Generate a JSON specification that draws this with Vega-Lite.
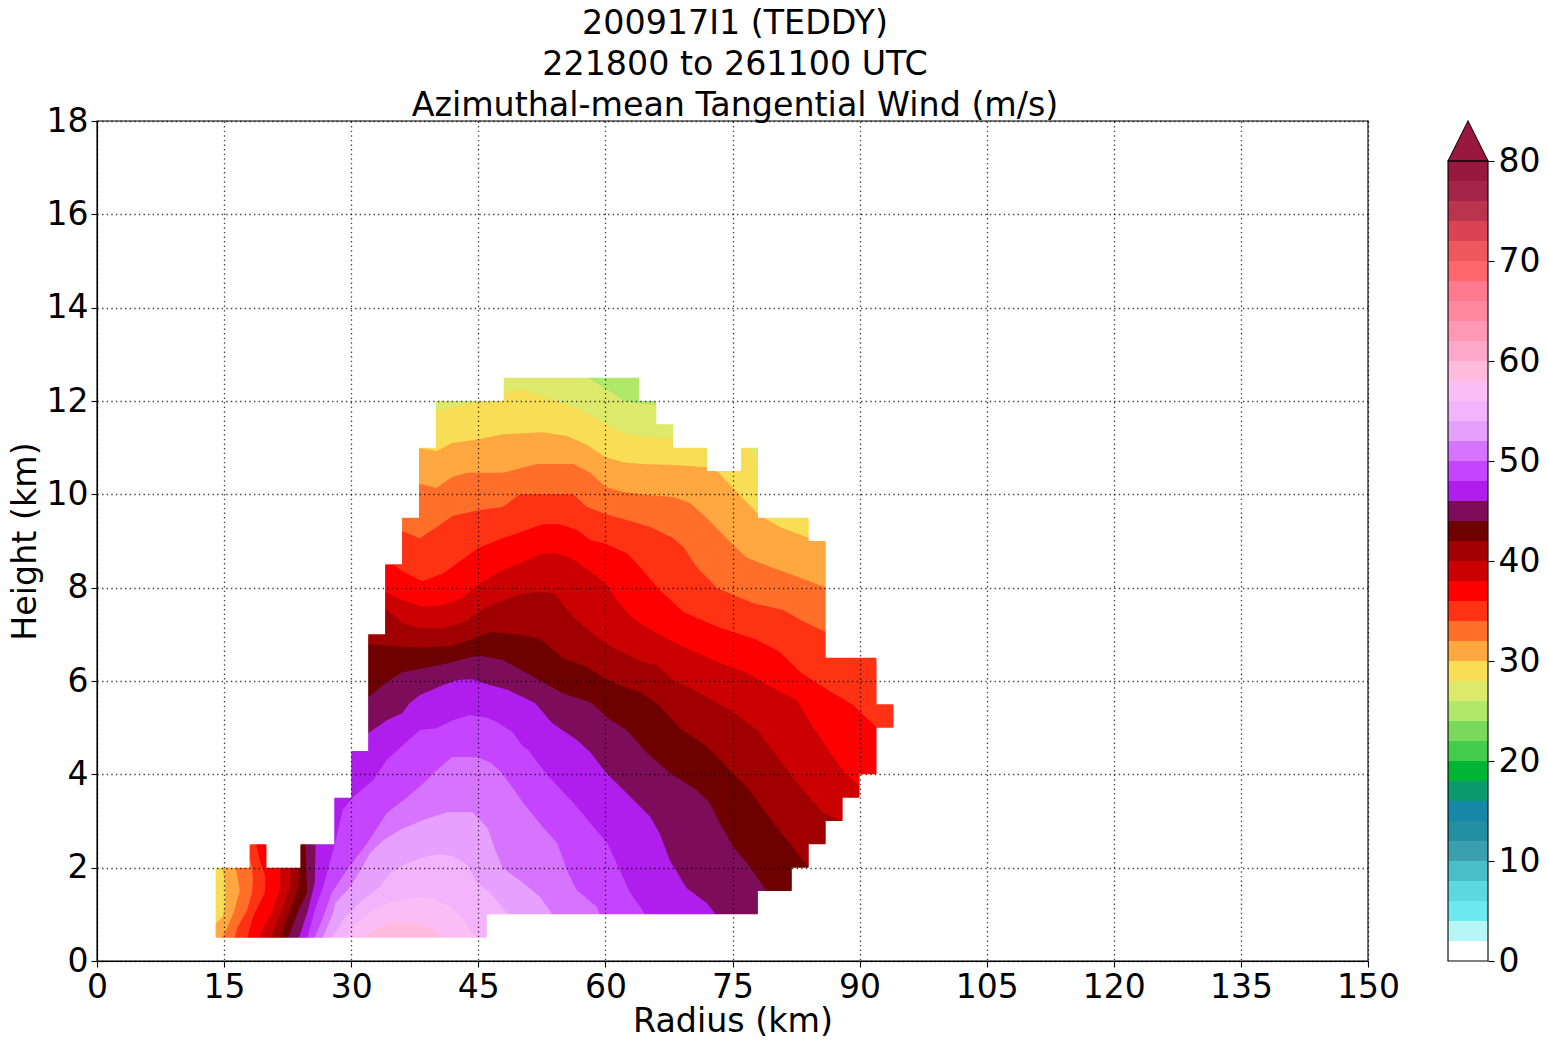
{
"$schema":"https://vega.github.io/schema/vega-lite/v6.json",
"padding":{"left":8,"top":6,"right":0,"bottom":5},
"background":"white",
"config":{"font":"DejaVu Sans","view":{"stroke":null},"concat":{"spacing":45}},
"title":{"text":["200917I1 (TEDDY)","221800 to 261100 UTC","Azimuthal-mean Tangential Wind (m/s)"],"fontSize":33.3,"fontWeight":"normal","lineHeight":41,"anchor":"middle","dx":-39,"offset":-18,"color":"black"},
"datasets":{
"frame":[{"r0":0,"r1":150,"h0":0,"h1":18}],
"mask":[
{"x0":0,"x1":150,"h0":0,"h1":0.5},{"x0":0,"x1":150,"h0":12.5,"h1":18},
{"x0":0,"x1":14,"h0":0.5,"h1":2},{"x0":46,"x1":150,"h0":0.5,"h1":1},{"x0":78,"x1":150,"h0":1,"h1":1.5},{"x0":82,"x1":150,"h0":1.5,"h1":2},
{"x0":0,"x1":18,"h0":2,"h1":2.5},{"x0":20,"x1":24,"h0":2,"h1":2.5},{"x0":84,"x1":150,"h0":2,"h1":2.5},
{"x0":0,"x1":28,"h0":2.5,"h1":3.5},{"x0":86,"x1":150,"h0":2.5,"h1":3},{"x0":88,"x1":150,"h0":3,"h1":3.5},
{"x0":0,"x1":30,"h0":3.5,"h1":4.5},{"x0":90,"x1":150,"h0":3.5,"h1":4},{"x0":92,"x1":150,"h0":4,"h1":5},
{"x0":0,"x1":32,"h0":4.5,"h1":7},{"x0":94,"x1":150,"h0":5,"h1":5.5},{"x0":92,"x1":150,"h0":5.5,"h1":6.5},{"x0":86,"x1":150,"h0":6.5,"h1":9},
{"x0":0,"x1":34,"h0":7,"h1":8.5},{"x0":0,"x1":36,"h0":8.5,"h1":9.5},{"x0":84,"x1":150,"h0":9,"h1":9.5},
{"x0":0,"x1":38,"h0":9.5,"h1":11},{"x0":78,"x1":150,"h0":9.5,"h1":11},{"x0":72,"x1":76,"h0":10.5,"h1":11},
{"x0":0,"x1":40,"h0":11,"h1":12},{"x0":68,"x1":150,"h0":11,"h1":11.5},{"x0":66,"x1":150,"h0":11.5,"h1":12},
{"x0":0,"x1":48,"h0":12,"h1":12.5},{"x0":64,"x1":150,"h0":12,"h1":12.5},
{"x0":0,"x1":14,"h0":0.47,"h1":0.53},{"x0":0,"x1":14,"h0":1.97,"h1":2.03},{"x0":0,"x1":18,"h0":2.47,"h1":2.53},{"x0":20,"x1":24,"h0":2.47,"h1":2.53},{"x0":0,"x1":28,"h0":3.47,"h1":3.53},{"x0":0,"x1":30,"h0":4.47,"h1":4.53},{"x0":0,"x1":32,"h0":6.97,"h1":7.03},{"x0":0,"x1":34,"h0":8.47,"h1":8.53},{"x0":0,"x1":36,"h0":9.47,"h1":9.53},{"x0":0,"x1":38,"h0":10.97,"h1":11.03},{"x0":0,"x1":40,"h0":11.97,"h1":12.03},{"x0":0,"x1":48,"h0":12.47,"h1":12.53},
{"x0":46,"x1":150,"h0":0.47,"h1":0.53},{"x0":78,"x1":150,"h0":0.97,"h1":1.03},{"x0":82,"x1":150,"h0":1.47,"h1":1.53},{"x0":84,"x1":150,"h0":1.97,"h1":2.03},{"x0":86,"x1":150,"h0":2.47,"h1":2.53},{"x0":88,"x1":150,"h0":2.97,"h1":3.03},{"x0":90,"x1":150,"h0":3.47,"h1":3.53},{"x0":92,"x1":150,"h0":3.97,"h1":4.03},{"x0":94,"x1":150,"h0":4.97,"h1":5.03},{"x0":94,"x1":150,"h0":5.47,"h1":5.53},{"x0":92,"x1":150,"h0":6.47,"h1":6.53},{"x0":86,"x1":150,"h0":8.97,"h1":9.03},{"x0":84,"x1":150,"h0":9.47,"h1":9.53},{"x0":78,"x1":150,"h0":10.97,"h1":11.03},{"x0":72,"x1":76,"h0":10.97,"h1":11.03},{"x0":68,"x1":150,"h0":11.47,"h1":11.53},{"x0":66,"x1":150,"h0":11.97,"h1":12.03},{"x0":64,"x1":150,"h0":12.47,"h1":12.53}
],
"contours":[
{"level":24,"i":0,"r":10,"h":0},{"level":24,"i":1,"r":10,"h":13},{"level":24,"i":2,"r":100,"h":13},{"level":24,"i":3,"r":100,"h":0},
{"level":26,"i":0,"r":10,"h":0},{"level":26,"i":1,"r":10,"h":13},{"level":26,"i":2,"r":57.5,"h":13},{"level":26,"i":3,"r":58,"h":12.49},{"level":26,"i":4,"r":62.5,"h":11.98},{"level":26,"i":5,"r":66.2,"h":11.91},{"level":26,"i":6,"r":100,"h":11.9},{"level":26,"i":7,"r":100,"h":0},
{"level":28,"i":0,"r":10,"h":0},{"level":28,"i":1,"r":10,"h":11.8},{"level":28,"i":2,"r":40,"h":11.8},{"level":28,"i":3,"r":45,"h":11.98},{"level":28,"i":4,"r":48,"h":12.17},{"level":28,"i":5,"r":50.1,"h":12.25},{"level":28,"i":6,"r":52.7,"h":12.08},{"level":28,"i":7,"r":55.8,"h":11.91},{"level":28,"i":8,"r":57.9,"h":11.74},{"level":28,"i":9,"r":60,"h":11.52},{"level":28,"i":10,"r":62.1,"h":11.31},{"level":28,"i":11,"r":64.4,"h":11.25},{"level":28,"i":12,"r":67.6,"h":11.2},{"level":28,"i":13,"r":77,"h":11},{"level":28,"i":14,"r":78.1,"h":10.7},{"level":28,"i":15,"r":100,"h":10.7},{"level":28,"i":16,"r":100,"h":0},
{"level":30,"i":0,"r":13,"h":0},{"level":30,"i":1,"r":13,"h":0.7},{"level":30,"i":2,"r":14,"h":0.81},{"level":30,"i":3,"r":14.8,"h":0.94},{"level":30,"i":4,"r":15.1,"h":1.16},{"level":30,"i":5,"r":15.1,"h":1.67},{"level":30,"i":6,"r":14.8,"h":2},{"level":30,"i":7,"r":14.8,"h":10.99},{"level":30,"i":8,"r":38.1,"h":10.99},{"level":30,"i":9,"r":40.1,"h":10.93},{"level":30,"i":10,"r":41.9,"h":11.1},{"level":30,"i":11,"r":45,"h":11.18},{"level":30,"i":12,"r":47.9,"h":11.29},{"level":30,"i":13,"r":52.6,"h":11.33},{"level":30,"i":14,"r":55.5,"h":11.25},{"level":30,"i":15,"r":57.8,"h":11.06},{"level":30,"i":16,"r":60,"h":10.8},{"level":30,"i":17,"r":62.1,"h":10.69},{"level":30,"i":18,"r":64.4,"h":10.65},{"level":30,"i":19,"r":68.2,"h":10.63},{"level":30,"i":20,"r":72,"h":10.58},{"level":30,"i":21,"r":73.3,"h":10.48},{"level":30,"i":22,"r":75.1,"h":10.13},{"level":30,"i":23,"r":78.1,"h":9.56},{"level":30,"i":24,"r":80.6,"h":9.3},{"level":30,"i":25,"r":84.1,"h":9.06},{"level":30,"i":26,"r":100,"h":8.9},{"level":30,"i":27,"r":100,"h":0},
{"level":32,"i":0,"r":14.2,"h":0},{"level":32,"i":1,"r":14.6,"h":0.47},{"level":32,"i":2,"r":15.1,"h":0.6},{"level":32,"i":3,"r":16.1,"h":1.03},{"level":32,"i":4,"r":16.8,"h":1.46},{"level":32,"i":5,"r":16.8,"h":1.56},{"level":32,"i":6,"r":16.4,"h":2},{"level":32,"i":7,"r":16.4,"h":10.22},{"level":32,"i":8,"r":38.1,"h":10.22},{"level":32,"i":9,"r":40.1,"h":10.14},{"level":32,"i":10,"r":41.9,"h":10.37},{"level":32,"i":11,"r":43.7,"h":10.46},{"level":32,"i":12,"r":47.9,"h":10.46},{"level":32,"i":13,"r":51.9,"h":10.65},{"level":32,"i":14,"r":56.2,"h":10.65},{"level":32,"i":15,"r":58.2,"h":10.46},{"level":32,"i":16,"r":60,"h":10.16},{"level":32,"i":17,"r":62.1,"h":10.05},{"level":32,"i":18,"r":64.9,"h":9.99},{"level":32,"i":19,"r":68.2,"h":9.94},{"level":32,"i":20,"r":70,"h":9.81},{"level":32,"i":21,"r":72,"h":9.49},{"level":32,"i":22,"r":75.1,"h":8.91},{"level":32,"i":23,"r":76.7,"h":8.64},{"level":32,"i":24,"r":79.8,"h":8.42},{"level":32,"i":25,"r":83,"h":8.21},{"level":32,"i":26,"r":86.2,"h":7.99},{"level":32,"i":27,"r":100,"h":7.9},{"level":32,"i":28,"r":100,"h":0},
{"level":34,"i":0,"r":15.8,"h":0},{"level":34,"i":1,"r":16.2,"h":0.47},{"level":34,"i":2,"r":16.6,"h":0.73},{"level":34,"i":3,"r":17.7,"h":1.09},{"level":34,"i":4,"r":18.3,"h":1.46},{"level":34,"i":5,"r":18.4,"h":1.74},{"level":34,"i":6,"r":18.3,"h":2},{"level":34,"i":7,"r":18,"h":2.2},{"level":34,"i":8,"r":18,"h":9.21},{"level":34,"i":9,"r":36.1,"h":9.21},{"level":34,"i":10,"r":38.1,"h":9.06},{"level":34,"i":11,"r":40.1,"h":9.3},{"level":34,"i":12,"r":42,"h":9.54},{"level":34,"i":13,"r":45,"h":9.66},{"level":34,"i":14,"r":47.9,"h":9.73},{"level":34,"i":15,"r":49.9,"h":10},{"level":34,"i":16,"r":56.2,"h":10},{"level":34,"i":17,"r":57.8,"h":9.73},{"level":34,"i":18,"r":60,"h":9.58},{"level":34,"i":19,"r":62.1,"h":9.47},{"level":34,"i":20,"r":65.3,"h":9.3},{"level":34,"i":21,"r":68,"h":9.06},{"level":34,"i":22,"r":69.2,"h":8.87},{"level":34,"i":23,"r":70.8,"h":8.44},{"level":34,"i":24,"r":73.2,"h":7.99},{"level":34,"i":25,"r":77.4,"h":7.67},{"level":34,"i":26,"r":81,"h":7.52},{"level":34,"i":27,"r":83,"h":7.31},{"level":34,"i":28,"r":86.2,"h":7.03},{"level":34,"i":29,"r":100,"h":7},{"level":34,"i":30,"r":100,"h":0},
{"level":36,"i":0,"r":17.3,"h":0},{"level":36,"i":1,"r":17.7,"h":0.47},{"level":36,"i":2,"r":18.4,"h":0.94},{"level":36,"i":3,"r":19.8,"h":1.46},{"level":36,"i":4,"r":19.9,"h":1.8},{"level":36,"i":5,"r":19.2,"h":2.16},{"level":36,"i":6,"r":18.8,"h":2.49},{"level":36,"i":7,"r":18.8,"h":8.49},{"level":36,"i":8,"r":35,"h":8.49},{"level":36,"i":9,"r":36.1,"h":8.34},{"level":36,"i":10,"r":38.4,"h":8.14},{"level":36,"i":11,"r":40.9,"h":8.31},{"level":36,"i":12,"r":43,"h":8.59},{"level":36,"i":13,"r":45,"h":8.85},{"level":36,"i":14,"r":47.9,"h":9.06},{"level":36,"i":15,"r":51.1,"h":9.26},{"level":36,"i":16,"r":52.6,"h":9.36},{"level":36,"i":17,"r":54.6,"h":9.36},{"level":36,"i":18,"r":56.6,"h":9.24},{"level":36,"i":19,"r":58.2,"h":9.02},{"level":36,"i":20,"r":60,"h":8.94},{"level":36,"i":21,"r":62.5,"h":8.74},{"level":36,"i":22,"r":64.1,"h":8.44},{"level":36,"i":23,"r":66.4,"h":7.95},{"level":36,"i":24,"r":69.2,"h":7.48},{"level":36,"i":25,"r":73.2,"h":7.16},{"level":36,"i":26,"r":77.9,"h":6.88},{"level":36,"i":27,"r":80.6,"h":6.62},{"level":36,"i":28,"r":83,"h":6.19},{"level":36,"i":29,"r":86.2,"h":5.81},{"level":36,"i":30,"r":89.2,"h":5.49},{"level":36,"i":31,"r":92.2,"h":4.97},{"level":36,"i":32,"r":100,"h":4.9},{"level":36,"i":33,"r":100,"h":0},
{"level":38,"i":0,"r":18.6,"h":0},{"level":38,"i":1,"r":19,"h":0.47},{"level":38,"i":2,"r":20.7,"h":1.09},{"level":38,"i":3,"r":21.6,"h":1.56},{"level":38,"i":4,"r":21.6,"h":7.9},{"level":38,"i":5,"r":34.1,"h":7.9},{"level":38,"i":6,"r":36.1,"h":7.73},{"level":38,"i":7,"r":38.4,"h":7.59},{"level":38,"i":8,"r":40.8,"h":7.63},{"level":38,"i":9,"r":43.1,"h":7.78},{"level":38,"i":10,"r":45,"h":8.06},{"level":38,"i":11,"r":46.4,"h":8.23},{"level":38,"i":12,"r":47.9,"h":8.38},{"level":38,"i":13,"r":50.3,"h":8.55},{"level":38,"i":14,"r":52.3,"h":8.72},{"level":38,"i":15,"r":54.1,"h":8.74},{"level":38,"i":16,"r":55.8,"h":8.64},{"level":38,"i":17,"r":58,"h":8.38},{"level":38,"i":18,"r":60,"h":8.1},{"level":38,"i":19,"r":61.4,"h":7.73},{"level":38,"i":20,"r":62.9,"h":7.41},{"level":38,"i":21,"r":64.1,"h":7.24},{"level":38,"i":22,"r":66.4,"h":6.99},{"level":38,"i":23,"r":69.2,"h":6.73},{"level":38,"i":24,"r":72.7,"h":6.45},{"level":38,"i":25,"r":76.7,"h":6.17},{"level":38,"i":26,"r":79.8,"h":5.85},{"level":38,"i":27,"r":82.6,"h":5.59},{"level":38,"i":28,"r":84.5,"h":5.01},{"level":38,"i":29,"r":86.9,"h":4.37},{"level":38,"i":30,"r":88.3,"h":4.03},{"level":38,"i":31,"r":90.2,"h":3.71},{"level":38,"i":32,"r":100,"h":3.5},{"level":38,"i":33,"r":100,"h":0},
{"level":40,"i":0,"r":20,"h":0},{"level":40,"i":1,"r":20.4,"h":0.47},{"level":40,"i":2,"r":21.8,"h":1.09},{"level":40,"i":3,"r":22.8,"h":1.59},{"level":40,"i":4,"r":22.8,"h":7.54},{"level":40,"i":5,"r":34.1,"h":7.54},{"level":40,"i":6,"r":35,"h":7.41},{"level":40,"i":7,"r":36.1,"h":7.24},{"level":40,"i":8,"r":37.9,"h":7.13},{"level":40,"i":9,"r":40.8,"h":7.13},{"level":40,"i":10,"r":43.2,"h":7.26},{"level":40,"i":11,"r":45,"h":7.46},{"level":40,"i":12,"r":46,"h":7.59},{"level":40,"i":13,"r":49.6,"h":7.84},{"level":40,"i":14,"r":51.9,"h":7.91},{"level":40,"i":15,"r":53.9,"h":7.88},{"level":40,"i":16,"r":56.2,"h":7.37},{"level":40,"i":17,"r":59,"h":6.94},{"level":40,"i":18,"r":60.9,"h":6.71},{"level":40,"i":19,"r":62.9,"h":6.54},{"level":40,"i":20,"r":64.1,"h":6.43},{"level":40,"i":21,"r":66.1,"h":6.34},{"level":40,"i":22,"r":68,"h":6.02},{"level":40,"i":23,"r":70.3,"h":5.81},{"level":40,"i":24,"r":74.7,"h":5.38},{"level":40,"i":25,"r":77.9,"h":4.95},{"level":40,"i":26,"r":80.3,"h":4.37},{"level":40,"i":27,"r":83,"h":3.73},{"level":40,"i":28,"r":85.7,"h":3.17},{"level":40,"i":29,"r":88.2,"h":2.98},{"level":40,"i":30,"r":100,"h":2.5},{"level":40,"i":31,"r":100,"h":0},
{"level":42,"i":0,"r":21.2,"h":0},{"level":42,"i":1,"r":21.5,"h":0.47},{"level":42,"i":2,"r":22.8,"h":1.09},{"level":42,"i":3,"r":23.8,"h":1.63},{"level":42,"i":4,"r":23.8,"h":6.79},{"level":42,"i":5,"r":32.1,"h":6.79},{"level":42,"i":6,"r":36.1,"h":6.73},{"level":42,"i":7,"r":38.4,"h":6.71},{"level":42,"i":8,"r":41.9,"h":6.75},{"level":42,"i":9,"r":44.8,"h":6.94},{"level":42,"i":10,"r":46.4,"h":7.05},{"level":42,"i":11,"r":49.9,"h":6.99},{"level":42,"i":12,"r":52.3,"h":6.9},{"level":42,"i":13,"r":55,"h":6.49},{"level":42,"i":14,"r":57.8,"h":6.3},{"level":42,"i":15,"r":60.2,"h":6.02},{"level":42,"i":16,"r":62.9,"h":5.83},{"level":42,"i":17,"r":64.1,"h":5.76},{"level":42,"i":18,"r":66.2,"h":5.5},{"level":42,"i":19,"r":68.8,"h":4.99},{"level":42,"i":20,"r":72,"h":4.59},{"level":42,"i":21,"r":74.7,"h":4.09},{"level":42,"i":22,"r":76.7,"h":3.73},{"level":42,"i":23,"r":79.8,"h":2.96},{"level":42,"i":24,"r":82.1,"h":2.44},{"level":42,"i":25,"r":84.1,"h":1.97},{"level":42,"i":26,"r":100,"h":1},{"level":42,"i":27,"r":100,"h":0},
{"level":44,"i":0,"r":22.2,"h":0},{"level":44,"i":1,"r":22.5,"h":0.47},{"level":44,"i":2,"r":23.8,"h":1.09},{"level":44,"i":3,"r":24.8,"h":1.46},{"level":44,"i":4,"r":24.6,"h":2.5},{"level":44,"i":5,"r":24.6,"h":5.66},{"level":44,"i":6,"r":32.1,"h":5.66},{"level":44,"i":7,"r":34.2,"h":5.98},{"level":44,"i":8,"r":36,"h":6.19},{"level":44,"i":9,"r":39.3,"h":6.3},{"level":44,"i":10,"r":41.7,"h":6.39},{"level":44,"i":11,"r":44,"h":6.51},{"level":44,"i":12,"r":45.2,"h":6.54},{"level":44,"i":13,"r":47.9,"h":6.45},{"level":44,"i":14,"r":51.1,"h":6.13},{"level":44,"i":15,"r":55,"h":5.74},{"level":44,"i":16,"r":58.4,"h":5.53},{"level":44,"i":17,"r":60.2,"h":5.21},{"level":44,"i":18,"r":62.5,"h":4.95},{"level":44,"i":19,"r":64.9,"h":4.46},{"level":44,"i":20,"r":67.6,"h":4.03},{"level":44,"i":21,"r":70.8,"h":3.66},{"level":44,"i":22,"r":72.3,"h":3.39},{"level":44,"i":23,"r":73.5,"h":2.96},{"level":44,"i":24,"r":75.1,"h":2.44},{"level":44,"i":25,"r":76.7,"h":2.1},{"level":44,"i":26,"r":79.1,"h":1.48},{"level":44,"i":27,"r":85,"h":1},{"level":44,"i":28,"r":85,"h":0},
{"level":46,"i":0,"r":23.5,"h":0},{"level":46,"i":1,"r":23.8,"h":0.47},{"level":46,"i":2,"r":24.9,"h":1.09},{"level":46,"i":3,"r":25.7,"h":1.67},{"level":46,"i":4,"r":25.8,"h":2.49},{"level":46,"i":5,"r":25.8,"h":4.89},{"level":46,"i":6,"r":32.1,"h":4.89},{"level":46,"i":7,"r":34.2,"h":5.16},{"level":46,"i":8,"r":36,"h":5.31},{"level":46,"i":9,"r":36.9,"h":5.53},{"level":46,"i":10,"r":38.1,"h":5.7},{"level":46,"i":11,"r":40.8,"h":5.91},{"level":46,"i":12,"r":42.5,"h":6.02},{"level":46,"i":13,"r":44.3,"h":6.04},{"level":46,"i":14,"r":46.4,"h":5.91},{"level":46,"i":15,"r":48.5,"h":5.81},{"level":46,"i":16,"r":51.7,"h":5.53},{"level":46,"i":17,"r":53.7,"h":5.1},{"level":46,"i":18,"r":56.6,"h":4.74},{"level":46,"i":19,"r":58.2,"h":4.48},{"level":46,"i":20,"r":60,"h":4.05},{"level":46,"i":21,"r":62.5,"h":3.6},{"level":46,"i":22,"r":65.3,"h":3.09},{"level":46,"i":23,"r":66.4,"h":2.74},{"level":46,"i":24,"r":67.6,"h":2.16},{"level":46,"i":25,"r":69.6,"h":1.56},{"level":46,"i":26,"r":72,"h":1.24},{"level":46,"i":27,"r":73.2,"h":0.96},{"level":46,"i":28,"r":74,"h":0.5},{"level":46,"i":29,"r":74,"h":0},
{"level":48,"i":0,"r":24.6,"h":0},{"level":48,"i":1,"r":24.8,"h":0.47},{"level":48,"i":2,"r":25.7,"h":1.09},{"level":48,"i":3,"r":26.7,"h":1.59},{"level":48,"i":4,"r":27.3,"h":2},{"level":48,"i":5,"r":28.1,"h":2.53},{"level":48,"i":6,"r":29,"h":3.24},{"level":48,"i":7,"r":30.1,"h":3.49},{"level":48,"i":8,"r":32.6,"h":3.88},{"level":48,"i":9,"r":34.2,"h":4.31},{"level":48,"i":10,"r":38.1,"h":4.95},{"level":48,"i":11,"r":40.1,"h":4.99},{"level":48,"i":12,"r":42,"h":5.16},{"level":48,"i":13,"r":44,"h":5.27},{"level":48,"i":14,"r":46,"h":5.21},{"level":48,"i":15,"r":47.2,"h":5.12},{"level":48,"i":16,"r":49,"h":4.91},{"level":48,"i":17,"r":50.3,"h":4.59},{"level":48,"i":18,"r":50.9,"h":4.52},{"level":48,"i":19,"r":53.1,"h":3.99},{"level":48,"i":20,"r":56.2,"h":3.39},{"level":48,"i":21,"r":60.2,"h":2.53},{"level":48,"i":22,"r":61.7,"h":1.95},{"level":48,"i":23,"r":62.9,"h":1.46},{"level":48,"i":24,"r":64.1,"h":1.16},{"level":48,"i":25,"r":64.8,"h":0.96},{"level":48,"i":26,"r":66,"h":0.5},{"level":48,"i":27,"r":66,"h":0},
{"level":50,"i":0,"r":25.2,"h":0},{"level":50,"i":1,"r":25.6,"h":0.47},{"level":50,"i":2,"r":26.7,"h":0.94},{"level":50,"i":3,"r":27.7,"h":1.46},{"level":50,"i":4,"r":29.5,"h":1.95},{"level":50,"i":5,"r":31.9,"h":2.53},{"level":50,"i":6,"r":34.2,"h":3.17},{"level":50,"i":7,"r":36.6,"h":3.51},{"level":50,"i":8,"r":38.5,"h":3.81},{"level":50,"i":9,"r":40.1,"h":4.09},{"level":50,"i":10,"r":41.9,"h":4.37},{"level":50,"i":11,"r":44.8,"h":4.37},{"level":50,"i":12,"r":46.4,"h":4.26},{"level":50,"i":13,"r":47.8,"h":4.03},{"level":50,"i":14,"r":50.3,"h":3.39},{"level":50,"i":15,"r":52.6,"h":2.87},{"level":50,"i":16,"r":54.3,"h":2.53},{"level":50,"i":17,"r":55.6,"h":1.89},{"level":50,"i":18,"r":56.6,"h":1.52},{"level":50,"i":19,"r":59,"h":1.16},{"level":50,"i":20,"r":59.4,"h":0.96},{"level":50,"i":21,"r":60,"h":0.5},{"level":50,"i":22,"r":60,"h":0},
{"level":52,"i":0,"r":26.3,"h":0},{"level":52,"i":1,"r":26.6,"h":0.47},{"level":52,"i":2,"r":27.9,"h":1.05},{"level":52,"i":3,"r":28.1,"h":1.24},{"level":52,"i":4,"r":29.9,"h":1.59},{"level":52,"i":5,"r":31.3,"h":2},{"level":52,"i":6,"r":32.2,"h":2.31},{"level":52,"i":7,"r":33.8,"h":2.59},{"level":52,"i":8,"r":35.8,"h":2.81},{"level":52,"i":9,"r":38.5,"h":3.02},{"level":52,"i":10,"r":41.3,"h":3.19},{"level":52,"i":11,"r":44.3,"h":3.19},{"level":52,"i":12,"r":46.1,"h":2.85},{"level":52,"i":13,"r":47,"h":2.38},{"level":52,"i":14,"r":47.9,"h":1.99},{"level":52,"i":15,"r":50.3,"h":1.67},{"level":52,"i":16,"r":52.3,"h":1.37},{"level":52,"i":17,"r":53.9,"h":0.96},{"level":52,"i":18,"r":55,"h":0.5},{"level":52,"i":19,"r":55,"h":0},
{"level":54,"i":0,"r":27.3,"h":0},{"level":54,"i":1,"r":27.6,"h":0.47},{"level":54,"i":2,"r":29.3,"h":0.94},{"level":54,"i":3,"r":31,"h":1.26},{"level":54,"i":4,"r":33.4,"h":1.59},{"level":54,"i":5,"r":34.6,"h":1.89},{"level":54,"i":6,"r":36.6,"h":2.1},{"level":54,"i":7,"r":39.1,"h":2.25},{"level":54,"i":8,"r":40.5,"h":2.29},{"level":54,"i":9,"r":42,"h":2.25},{"level":54,"i":10,"r":43.7,"h":2.06},{"level":54,"i":11,"r":44.8,"h":1.69},{"level":54,"i":12,"r":46.4,"h":1.46},{"level":54,"i":13,"r":48.7,"h":0.96},{"level":54,"i":14,"r":50,"h":0.5},{"level":54,"i":15,"r":50,"h":0},
{"level":56,"i":0,"r":29,"h":0},{"level":56,"i":1,"r":29.3,"h":0.47},{"level":56,"i":2,"r":30.2,"h":0.73},{"level":56,"i":3,"r":32.2,"h":1.05},{"level":56,"i":4,"r":34.6,"h":1.26},{"level":56,"i":5,"r":37.8,"h":1.37},{"level":56,"i":6,"r":39.7,"h":1.33},{"level":56,"i":7,"r":41.7,"h":1.16},{"level":56,"i":8,"r":43.2,"h":0.9},{"level":56,"i":9,"r":44.8,"h":0.47},{"level":56,"i":10,"r":45,"h":0},
{"level":58,"i":0,"r":31.2,"h":0},{"level":58,"i":1,"r":31.4,"h":0.47},{"level":58,"i":2,"r":32.6,"h":0.66},{"level":58,"i":3,"r":34.2,"h":0.81},{"level":58,"i":4,"r":36.1,"h":0.84},{"level":58,"i":5,"r":38.1,"h":0.79},{"level":58,"i":6,"r":39.7,"h":0.66},{"level":58,"i":7,"r":40.8,"h":0.47},{"level":58,"i":8,"r":41,"h":0}
],
"bands":[{"level":0,"top":2},{"level":2,"top":4},{"level":4,"top":6},{"level":6,"top":8},{"level":8,"top":10},{"level":10,"top":12},{"level":12,"top":14},{"level":14,"top":16},{"level":16,"top":18},{"level":18,"top":20},{"level":20,"top":22},{"level":22,"top":24},{"level":24,"top":26},{"level":26,"top":28},{"level":28,"top":30},{"level":30,"top":32},{"level":32,"top":34},{"level":34,"top":36},{"level":36,"top":38},{"level":38,"top":40},{"level":40,"top":42},{"level":42,"top":44},{"level":44,"top":46},{"level":46,"top":48},{"level":48,"top":50},{"level":50,"top":52},{"level":52,"top":54},{"level":54,"top":56},{"level":56,"top":58},{"level":58,"top":60},{"level":60,"top":62},{"level":62,"top":64},{"level":64,"top":66},{"level":66,"top":68},{"level":68,"top":70},{"level":70,"top":72},{"level":72,"top":74},{"level":74,"top":76},{"level":76,"top":78},{"level":78,"top":80}],
"arrow":[{"p":0,"v":80},{"p":0.5,"v":84},{"p":1,"v":80}],
"barframe":[{"lo":0,"hi":80}]
},
"hconcat":[
{"width":1271,"height":840,"layer":[
{"data":{"name":"contours"},"mark":{"type":"line","strokeWidth":0},
"encoding":{
"x":{"field":"r","type":"quantitative","scale":{"domain":[0,150],"nice":false},"axis":{"title":"Radius (km)","values":[0,15,30,45,60,75,90,105,120,135,150],"format":"d","grid":true,"gridColor":"#000000","gridOpacity":0.75,"gridDash":[1.4,3.2],"gridWidth":1.3,"zindex":1,"labelFontSize":33,"titleFontSize":33.3,"titleFontWeight":"normal","labelColor":"#000","titleColor":"#000","tickColor":"#000","tickSize":6,"tickWidth":1.1,"domainColor":"#000","domainWidth":1.1,"labelFlush":false,"labelPadding":4,"titlePadding":1,"labelOverlap":false}},
"y":{"field":"h","type":"quantitative","scale":{"domain":[0,18],"nice":false},"axis":{"title":"Height (km)","values":[0,2,4,6,8,10,12,14,16,18],"format":"d","grid":true,"gridColor":"#000000","gridOpacity":0.75,"gridDash":[1.4,3.2],"gridWidth":1.3,"zindex":1,"labelFontSize":33,"titleFontSize":33.3,"titleFontWeight":"normal","labelColor":"#000","titleColor":"#000","tickColor":"#000","tickSize":6,"tickWidth":1.1,"domainColor":"#000","domainWidth":1.1,"labelPadding":3,"titlePadding":4,"labelOverlap":false}},
"order":{"field":"i","type":"quantitative"},
"fill":{"field":"level","type":"ordinal","legend":null,"scale":{"domain":[0,2,4,6,8,10,12,14,16,18,20,22,24,26,28,30,32,34,36,38,40,42,44,46,48,50,52,54,56,58,60,62,64,66,68,70,72,74,76,78],"range":["#ffffff","#b6f6f6","#6ce9ee","#5cd9e0","#48bfc9","#3a9fae","#238fa3","#1588a8","#0a9a6e","#00b533","#44cc4c","#7ad95a","#b0e96a","#dde96a","#f7de55","#ffa840","#ff6f2a","#ff3214","#ff0000","#cb0000","#a00000","#6e0000","#7d0c5a","#b01eee","#c545ff","#d673ff","#e8a0ff","#f3b4fb","#fabef5","#ffbbde","#ffa8c8","#ff98b4","#ff88a0","#ff7a8c","#ff666e","#f0565e","#dc4254","#bb344e","#a52448","#98183f"]}}
}},
{"data":{"name":"mask"},"mark":{"type":"rect","fill":"white"},
"encoding":{"x":{"field":"x0","type":"quantitative","scale":{"domain":[0,150],"nice":false}},"x2":{"field":"x1"},"y":{"field":"h0","type":"quantitative","scale":{"domain":[0,18],"nice":false}},"y2":{"field":"h1"}}},
{"data":{"name":"frame"},"mark":{"type":"rect","fill":null,"stroke":"#000","strokeWidth":1.1},
"encoding":{"x":{"field":"r0","type":"quantitative","scale":{"domain":[0,150],"nice":false}},"x2":{"field":"r1"},"y":{"field":"h0","type":"quantitative","scale":{"domain":[0,18],"nice":false}},"y2":{"field":"h1"}}}
]},
{"width":40,"height":840,"layer":[
{"data":{"name":"bands"},"mark":{"type":"rect"},
"encoding":{
"y":{"field":"level","type":"quantitative","scale":{"domain":[0,84],"nice":false},"axis":{"orient":"right","title":null,"values":[0,10,20,30,40,50,60,70,80],"format":"d","domain":false,"grid":false,"labelFontSize":33,"labelColor":"#000","tickColor":"#000","tickSize":6,"tickWidth":1.1,"labelPadding":4,"labelOverlap":false}},
"y2":{"field":"top"},
"fill":{"field":"level","type":"ordinal","legend":null,"scale":{"domain":[0,2,4,6,8,10,12,14,16,18,20,22,24,26,28,30,32,34,36,38,40,42,44,46,48,50,52,54,56,58,60,62,64,66,68,70,72,74,76,78],"range":["#ffffff","#b6f6f6","#6ce9ee","#5cd9e0","#48bfc9","#3a9fae","#238fa3","#1588a8","#0a9a6e","#00b533","#44cc4c","#7ad95a","#b0e96a","#dde96a","#f7de55","#ffa840","#ff6f2a","#ff3214","#ff0000","#cb0000","#a00000","#6e0000","#7d0c5a","#b01eee","#c545ff","#d673ff","#e8a0ff","#f3b4fb","#fabef5","#ffbbde","#ffa8c8","#ff98b4","#ff88a0","#ff7a8c","#ff666e","#f0565e","#dc4254","#bb344e","#a52448","#98183f"]}}
}},
{"data":{"name":"arrow"},"mark":{"type":"area","fill":"#98183f","stroke":"#2a0a14","strokeWidth":1.1},
"encoding":{"x":{"field":"p","type":"quantitative","scale":{"domain":[0,1]},"axis":null},"y":{"field":"v","type":"quantitative","scale":{"domain":[0,84],"nice":false},"stack":null},"y2":{"datum":80}}},
{"data":{"name":"barframe"},"mark":{"type":"rect","fill":null,"stroke":"#000","strokeWidth":1.1},
"encoding":{"y":{"field":"lo","type":"quantitative","scale":{"domain":[0,84],"nice":false}},"y2":{"field":"hi"}}}
]}
]
}
